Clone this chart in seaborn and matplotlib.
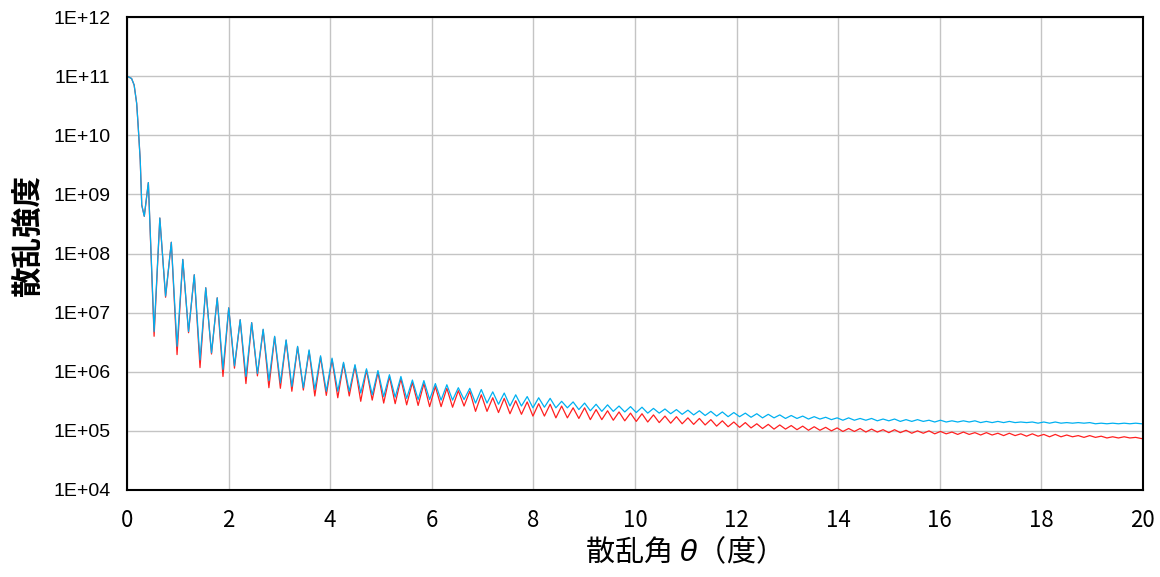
import numpy as np
import pandas as pd
import seaborn as sns
import matplotlib
matplotlib.use("Agg")
import matplotlib.pyplot as plt
from matplotlib.ticker import FixedLocator, FuncFormatter, NullLocator

# start of the curve, before the fringes (theta in deg, log10 of intensity)
head_theta = [0.0, 0.09, 0.14, 0.19, 0.22, 0.26, 0.29, 0.34]
head_log = [11.0, 10.96, 10.85, 10.54, 10.15, 9.58, 8.82, 8.63]

# fringes: first maximum near 0.42 deg, then one every ~0.226 deg
first_peak = 0.42
fringe_period = 0.226
end_theta = 20.0

# blue curve, log10 values read at each maximum / following minimum
blue_peaks = [
    9.20, 8.60, 8.19, 7.90, 7.64, 7.42, 7.25, 7.08, 6.88, 6.83,
    6.72, 6.60, 6.54, 6.43, 6.37, 6.27, 6.23, 6.16, 6.12, 6.05,
    6.02, 5.95, 5.92, 5.86, 5.85, 5.80, 5.78, 5.73, 5.72, 5.70,
    5.66, 5.64, 5.61, 5.58, 5.56, 5.55, 5.50, 5.49, 5.47, 5.45,
    5.44, 5.42, 5.41, 5.40, 5.38, 5.37, 5.36, 5.35, 5.34, 5.33,
    5.32, 5.31, 5.30, 5.29, 5.28, 5.27, 5.26, 5.25, 5.24, 5.23,
    5.22, 5.22, 5.21, 5.21, 5.20, 5.20, 5.19, 5.19, 5.18, 5.18,
    5.17, 5.17, 5.17, 5.16, 5.16, 5.16, 5.15, 5.15, 5.15, 5.15,
    5.14, 5.14, 5.14, 5.13, 5.13, 5.13, 5.13,
]
blue_troughs = [
    6.68, 7.28, 6.43, 6.68, 6.20, 6.32, 6.04, 6.10, 5.92, 5.97,
    5.85, 5.81, 5.75, 5.73, 5.70, 5.67, 5.67, 5.67, 5.64, 5.61,
    5.58, 5.57, 5.55, 5.53, 5.53, 5.52, 5.52, 5.53, 5.47, 5.47,
    5.45, 5.42, 5.42, 5.39, 5.40, 5.39, 5.39, 5.36, 5.34, 5.33,
    5.33, 5.32, 5.31, 5.30, 5.30, 5.29, 5.28, 5.27, 5.26, 5.25,
    5.24, 5.24, 5.23, 5.22, 5.22, 5.21, 5.21, 5.20, 5.20, 5.19,
    5.18, 5.18, 5.18, 5.17, 5.17, 5.16, 5.16, 5.16, 5.15, 5.15,
    5.15, 5.15, 5.14, 5.14, 5.14, 5.14, 5.14, 5.13, 5.13, 5.13,
    5.13, 5.13, 5.12, 5.12, 5.12, 5.12, 5.12,
]
blue_end = 5.12

# red curve
red_peaks = [
    9.20, 8.60, 8.19, 7.90, 7.64, 7.42, 7.25, 7.08, 6.88, 6.83,
    6.71, 6.59, 6.53, 6.42, 6.35, 6.25, 6.21, 6.14, 6.10, 6.03,
    5.99, 5.92, 5.88, 5.82, 5.80, 5.75, 5.72, 5.68, 5.67, 5.61,
    5.56, 5.55, 5.51, 5.49, 5.46, 5.45, 5.42, 5.39, 5.39, 5.36,
    5.34, 5.32, 5.30, 5.29, 5.27, 5.25, 5.24, 5.22, 5.21, 5.19,
    5.17, 5.15, 5.14, 5.12, 5.11, 5.10, 5.09, 5.08, 5.07, 5.06,
    5.05, 5.04, 5.04, 5.03, 5.02, 5.02, 5.01, 5.00, 5.00, 4.99,
    4.98, 4.98, 4.97, 4.97, 4.96, 4.96, 4.95, 4.95, 4.94, 4.94,
    4.93, 4.92, 4.92, 4.91, 4.90, 4.90, 4.89,
]
red_troughs = [
    6.60, 7.26, 6.29, 6.66, 6.07, 6.30, 5.92, 6.06, 5.80, 5.93,
    5.73, 5.72, 5.67, 5.69, 5.59, 5.60, 5.56, 5.59, 5.50, 5.52,
    5.47, 5.46, 5.44, 5.43, 5.41, 5.41, 5.40, 5.42, 5.33, 5.33,
    5.31, 5.29, 5.28, 5.25, 5.25, 5.22, 5.22, 5.21, 5.19, 5.19,
    5.18, 5.17, 5.16, 5.15, 5.14, 5.13, 5.12, 5.11, 5.10, 5.08,
    5.07, 5.06, 5.05, 5.04, 5.03, 5.03, 5.02, 5.01, 5.01, 5.00,
    4.99, 4.99, 4.98, 4.98, 4.97, 4.97, 4.96, 4.96, 4.95, 4.95,
    4.94, 4.94, 4.93, 4.93, 4.92, 4.92, 4.91, 4.91, 4.90, 4.90,
    4.90, 4.89, 4.89, 4.88, 4.88, 4.88, 4.87,
]
red_end = 4.87

x_ticks = [0, 2, 4, 6, 8, 10, 12, 14, 16, 18, 20]
y_decades = [4, 5, 6, 7, 8, 9, 10, 11, 12]


def build_series(name, peaks, troughs, end_val):
    """Interleave maxima and minima into one theta / intensity table."""
    k = np.arange(len(peaks))
    px = first_peak + fringe_period * k
    xs = np.empty(2 * len(peaks))
    ys = np.empty(2 * len(peaks))
    xs[0::2] = px
    xs[1::2] = px + fringe_period / 2
    ys[0::2] = peaks
    ys[1::2] = troughs
    theta = np.concatenate([head_theta, xs, [end_theta]])
    logs = np.concatenate([head_log, ys, [end_val]])
    return pd.DataFrame({"theta": theta, "intensity": 10.0 ** logs, "series": name})


df = pd.concat([
    build_series("red", red_peaks, red_troughs, red_end),
    build_series("blue", blue_peaks, blue_troughs, blue_end),
], ignore_index=True)

sns.set_theme(style="white")
plt.rcParams["font.family"] = ["Noto Sans CJK JP", "DejaVu Sans"]
plt.rcParams["text.color"] = "black"
plt.rcParams["axes.labelcolor"] = "black"
plt.rcParams["xtick.color"] = "black"
plt.rcParams["ytick.color"] = "black"

fig = plt.figure(figsize=(11.6, 5.77), dpi=100)
ax = fig.add_axes([0.1095, 0.1508, 0.8758, 0.8197])

sns.lineplot(data=df, x="theta", y="intensity", hue="series",
             palette={"red": "#ff2020", "blue": "#00b0f0"},
             estimator=None, sort=False, linewidth=0.9, legend=False, ax=ax)

ax.set_yscale("log")
ax.set_xlim(0, 20)
ax.set_ylim(1e4, 1e12)
ax.xaxis.set_major_locator(FixedLocator(x_ticks))
ax.yaxis.set_major_locator(FixedLocator([10.0 ** d for d in y_decades]))
ax.yaxis.set_minor_locator(NullLocator())
ax.yaxis.set_major_formatter(FuncFormatter(lambda v, p: f"1E+{int(round(np.log10(v))):02d}"))

ax.grid(True, which="major", color="#c4c4c4", linewidth=1.0)
for s in ax.spines.values():
    s.set_color("black")
    s.set_linewidth(1.5)

ax.tick_params(axis="y", direction="in", length=5, width=1.2, color="black",
               pad=12, labelsize=14, labelcolor="black")
ax.tick_params(axis="x", length=0, pad=14, labelsize=16, labelcolor="black")
for lab in ax.get_yticklabels():
    lab.set_fontfamily(["Liberation Sans", "DejaVu Sans"])

ax.set_xlabel("散乱角 $\\theta$（度）", fontsize=21, color="black")
ax.set_ylabel("散乱強度", fontsize=22, fontweight="bold", color="black")
ax.xaxis.label.set_va("center")
ax.yaxis.label.set_va("center")
ax.xaxis.set_label_coords(0.54, -0.131)
ax.yaxis.set_label_coords(-0.0974, 0.537)

fig.savefig("out.png", dpi=100)
